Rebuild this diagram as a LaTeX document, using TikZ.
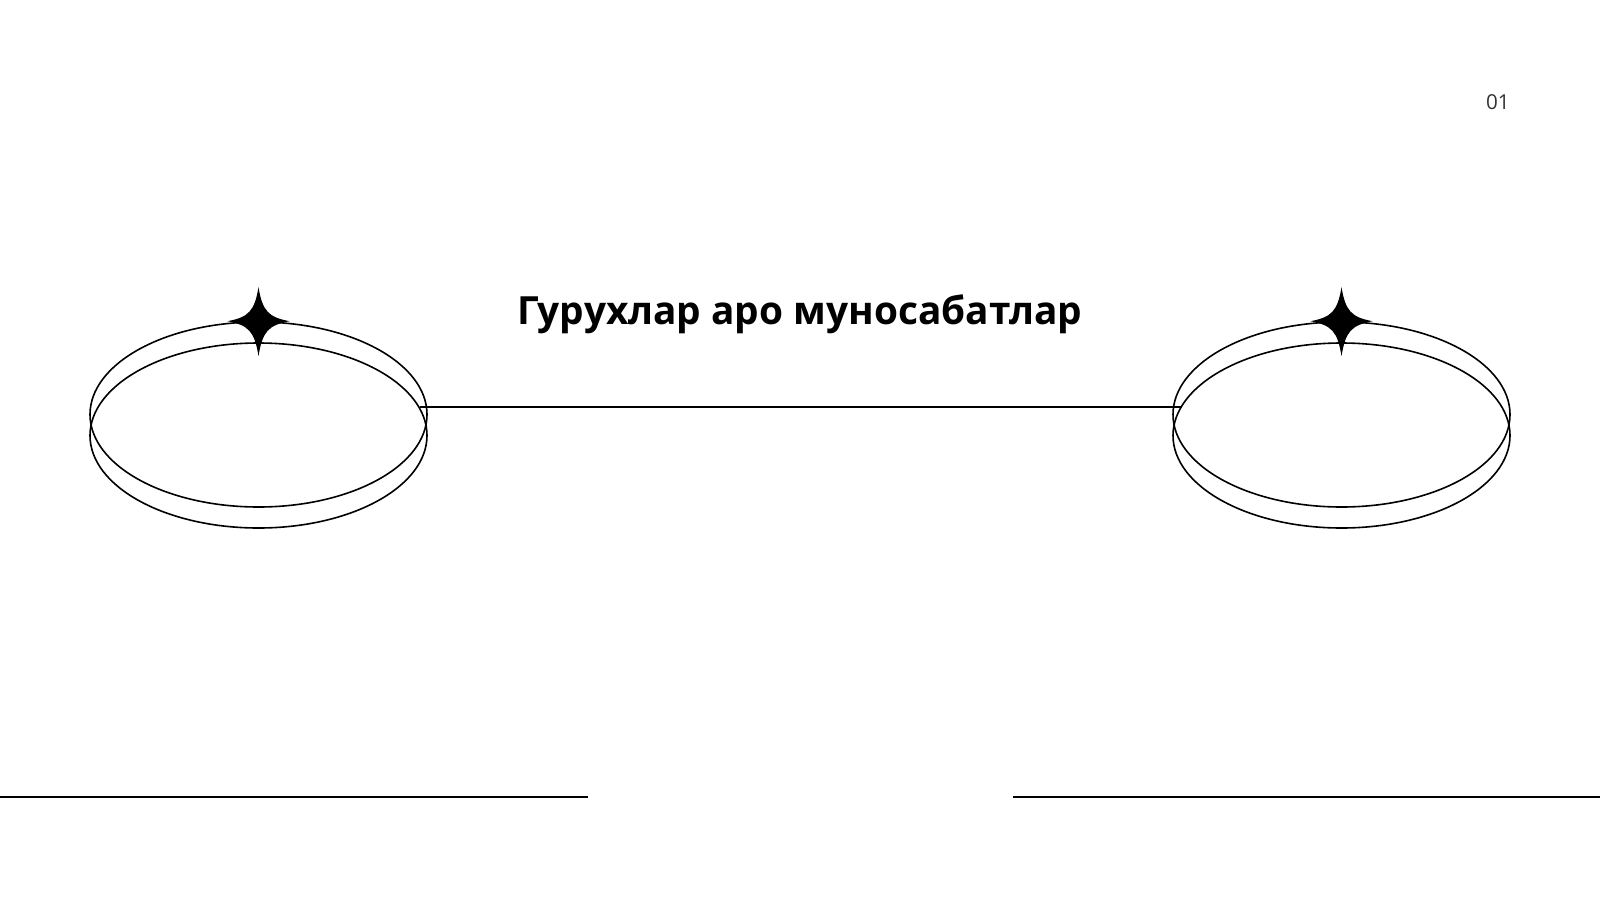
\documentclass[tikz,border=0pt]{standalone}
\usepackage{fontspec}
\setmainfont{Open Sans}
\usetikzlibrary{shapes.geometric}
\definecolor{pagenum}{HTML}{333333}
\tikzset{
	ring/.style={ellipse,draw,line width=0.8pt,inner sep=0pt,
		minimum width=168.5pt,minimum height=92.5pt},
	rule/.style={line width=0.8pt},
	sparkle/.pic={
		\fill (0,-34) .. controls (4,-10) and (10,-4) .. (31,0)
			.. controls (10,4) and (4,10) .. (0,35)
			.. controls (-4,10) and (-10,4) .. (-31,0)
			.. controls (-10,-4) and (-4,-10) .. (0,-34) -- cycle;
	}
}
\begin{document}
\begin{tikzpicture}[x=0.5pt,y=-0.5pt]
\useasboundingbox (0,0) rectangle (1600,900);
% los dos anillos
\foreach \Xc/\Nm in {258.5/l,1341.5/r}
{
	\node[ring] (\Nm back) at (\Xc,414.5) {};
	\node[ring] (\Nm front) at (\Xc,435.5) {};
	\path (\Nm back.north) pic {sparkle};
}
\draw[rule] (lfront.10.5) -- (rfront.169.5 |- lfront.10.5);
\node[font=\fontsize{19.4}{23}\selectfont\bfseries,anchor=base] (title)
	at (800,324.5) {Гурухлар аро муносабатлар};
\node[font=\fontsize{10.3}{12}\selectfont,text=pagenum,anchor=base east,inner sep=0pt] (page)
	at (1510,109) {01};
% lineas de abajo
\draw[rule] (0,797) -- (588,797);
\draw[rule] (1013,797) -- (1600,797);
\end{tikzpicture}
\end{document}
